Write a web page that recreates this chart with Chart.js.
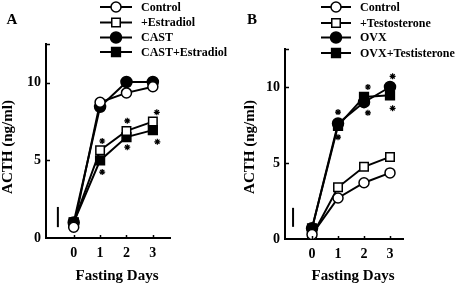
<!DOCTYPE html>
<html><head><meta charset="utf-8">
<script src="https://cdn.jsdelivr.net/npm/chart.js@4"></script>
<style>
html,body{margin:0;padding:0;background:#fff;}
#wrap{position:relative;width:456px;height:285px;overflow:hidden;}
canvas{position:absolute;top:0;}
#cA{left:0;} #cB{left:228px;}
</style></head><body>
<div id="wrap"><canvas id="cA" width="228" height="285"></canvas><canvas id="cB" width="228" height="285"></canvas></div>
<script>
// ---- data ----
const days = [0, 1, 2, 3];
const xTicks = [0, 1, 2, 3];
const yTicks = [0, 5, 10];
const yMarks = [5, 10, 12.5];
const yTitle = 'ACTH (ng/ml)';
const xTitle = 'Fasting Days';

// Panel A
const aLabels = ['Control', '+Estradiol', 'CAST', 'CAST+Estradiol'];
const aControl = [0.7, 8.75, 9.35, 9.75];
const aEstradiol = [1.0, 5.65, 6.9, 7.5];
const aCast = [1.0, 8.45, 10.05, 10.05];
const aCastEstradiol = [1.0, 5.0, 6.5, 6.95];
const aStarX = [1.08, 2.03, 3.15, 1.08, 2.03, 3.17];
const aStarY = [6.25, 7.55, 8.1, 4.25, 5.85, 6.2];
const aBarX = [-0.6, -0.6];
const aBarY = [0.7, 2.0];

// Panel B
const bLabels = ['Control', '+Testosterone', 'OVX', 'OVX+Testisterone'];
const bControl = [0.3, 2.7, 3.7, 4.35];
const bTestosterone = [0.2, 3.4, 4.75, 5.4];
const bOvx = [0.7, 7.6, 9.0, 10.0];
const bOvxTest = [0.7, 7.45, 9.35, 9.45];
const bStarX = [1.0, 2.15, 3.1, 1.0, 2.15, 3.1];
const bStarY = [8.35, 10.0, 10.7, 6.7, 8.3, 8.6];
const bBarX = [-0.73, -0.73];
const bBarY = [0.8, 2.05];

// ---- styles ----
const FONT = '"Liberation Serif", "Times New Roman", serif';
const markers = [
  {style: 'circle', r: 5, fill: '#fff'},
  {style: 'rect', r: 6, fill: '#fff'},
  {style: 'circle', r: 5.5, fill: '#000'},
  {style: 'rect', r: 6.2, fill: '#000'}
];

function drawMarker(ctx, m, x, y) {
  ctx.beginPath();
  if (m.style === 'circle') {
    ctx.arc(x, y, m.r, 0, Math.PI * 2);
  } else {
    const s = m.r * Math.SQRT1_2;
    ctx.rect(x - s, y - s, 2 * s, 2 * s);
  }
  ctx.fillStyle = m.fill;
  ctx.fill();
  ctx.lineWidth = 1.5;
  ctx.strokeStyle = '#000';
  ctx.stroke();
}

const decor = {
  id: 'decor',
  afterDraw(chart, args, o) {
    const {ctx, chartArea} = chart;
    const x = chart.scales.x, y = chart.scales.y;
    ctx.save();
    ctx.strokeStyle = '#000';
    ctx.lineWidth = 1.5;
    // inward tick marks
    yMarks.forEach(v => {
      const py = Math.round(y.getPixelForValue(v)) + 0.5;
      ctx.beginPath(); ctx.moveTo(chartArea.left, py); ctx.lineTo(chartArea.left + 4, py); ctx.stroke();
    });
    xTicks.forEach(v => {
      const px = Math.round(x.getPixelForValue(v)) + 0.5;
      ctx.beginPath(); ctx.moveTo(px, chartArea.bottom); ctx.lineTo(px, chartArea.bottom - 3); ctx.stroke();
    });
    // legend
    const labels = chart.data.datasets.slice(0, 4).map(d => d.label);
    labels.forEach((lab, i) => {
      const ry = o.legendY[i];
      ctx.beginPath();
      ctx.lineWidth = 2;
      ctx.strokeStyle = '#000';
      ctx.moveTo(o.legendX0, ry); ctx.lineTo(o.legendX1, ry); ctx.stroke();
      drawMarker(ctx, markers[i], (o.legendX0 + o.legendX1) / 2, ry);
      ctx.fillStyle = '#000';
      ctx.font = 'bold 12px ' + FONT;
      ctx.textAlign = 'left';
      ctx.textBaseline = 'middle';
      ctx.fillText(lab, o.legendTX, ry + 0.5);
    });
    // panel letter
    ctx.fillStyle = '#000';
    ctx.font = 'bold 15px ' + FONT;
    ctx.textAlign = 'center';
    ctx.textBaseline = 'middle';
    ctx.fillText(o.letter, o.letterX, o.letterY);
    // axis titles
    ctx.font = 'bold 15px ' + FONT;
    ctx.fillText(xTitle, o.xTitleX, o.xTitleY);
    ctx.translate(o.yTitleX, o.yTitleY);
    ctx.rotate(-Math.PI / 2);
    ctx.fillText(yTitle, 0, 0);
    ctx.restore();
  }
};

function makePanel(id, p) {
  const datasets = p.series.map((vals, i) => ({
    label: p.labels[i],
    data: days.map((d, k) => ({x: d, y: vals[k]})),
    showLine: true,
    borderColor: '#000',
    borderWidth: 2,
    pointStyle: markers[i].style,
    pointRadius: markers[i].r,
    pointBackgroundColor: markers[i].fill,
    pointBorderColor: '#000',
    pointBorderWidth: 1.5,
    order: p.order[i]
  }));
  datasets.push({
    label: 'significance',
    data: p.starX.map((v, k) => ({x: v, y: p.starY[k]})),
    showLine: false,
    pointStyle: 'star',
    pointRadius: 3,
    pointBorderColor: '#000',
    pointBorderWidth: 1.2,
    order: 10
  });
  datasets.push({
    label: 'bar',
    data: p.barX.map((v, k) => ({x: v, y: p.barY[k]})),
    showLine: true,
    borderColor: '#000',
    borderWidth: 2,
    pointRadius: 0,
    order: 11
  });
  const tickFont = {family: FONT, weight: 'bold', size: 14};
  new Chart(document.getElementById(id), {
    type: 'scatter',
    data: {datasets},
    plugins: [decor],
    options: {
      responsive: false,
      animation: false,
      events: [],
      layout: {padding: {top: p.top, right: p.right, left: 0, bottom: 0}},
      plugins: {legend: {display: false}, tooltip: {enabled: false}, decor: p.decor},
      scales: {
        x: {
          type: 'linear', min: p.xmin, max: p.xmax,
          afterBuildTicks: s => { s.ticks = xTicks.map(v => ({value: v})); },
          afterFit: s => { s.height = p.xh; },
          grid: {display: false, drawTicks: false},
          border: {display: true, color: '#000', width: 2},
          ticks: {color: '#000', padding: 7, font: tickFont, autoSkip: false, maxRotation: 0}
        },
        y: {
          type: 'linear', min: 0, max: 12.5,
          afterBuildTicks: s => { s.ticks = yTicks.map(v => ({value: v})); },
          afterFit: s => { s.width = p.yw; },
          grid: {display: false, drawTicks: false},
          border: {display: true, color: '#000', width: 2},
          ticks: {color: '#000', padding: 5, font: tickFont}
        }
      }
    }
  });
}

makePanel('cA', {
  labels: aLabels,
  series: [aControl, aEstradiol, aCast, aCastEstradiol],
  order: [1, 3, 2, 4],
  starX: aStarX, starY: aStarY, barX: aBarX, barY: aBarY,
  xmin: -1.05, xmax: 3.65, top: 44, right: 58, yw: 46, xh: 47,
  decor: {legendX0: 100, legendX1: 132, legendTX: 141, legendY: [7, 22.5, 37.5, 52],
          letter: 'A', letterX: 12, letterY: 20, xTitleX: 117, xTitleY: 276, yTitleX: 8, yTitleY: 147}
});

makePanel('cB', {
  labels: bLabels,
  series: [bControl, bTestosterone, bOvx, bOvxTest],
  order: [1, 2, 4, 3],
  starX: bStarX, starY: bStarY, barX: bBarX, barY: bBarY,
  xmin: -1.04, xmax: 3.5, top: 49, right: 53, yw: 57, xh: 46,
  decor: {legendX0: 93, legendX1: 123, legendTX: 132, legendY: [7, 23, 37.5, 53],
          letter: 'B', letterX: 24, letterY: 20, xTitleX: 125, xTitleY: 276, yTitleX: 22, yTitleY: 147}
});
</script>
</body></html>
